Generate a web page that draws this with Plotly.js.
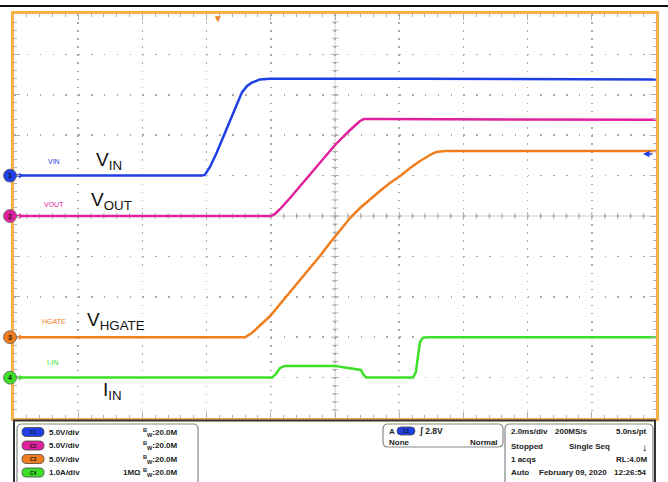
<!DOCTYPE html>
<html><head><meta charset="utf-8">
<script src="https://cdn.plot.ly/plotly-3.0.1.min.js"></script>
<style>html,body{margin:0;padding:0;background:#fff}#chart{width:668px;height:482px}</style>
</head><body><div id="chart"></div>
<script>
// time in ms (2.0 ms/div, 10 div); volts / amps per channel
const vinT  = [0, 5.86, 5.95, 6.11, 6.32, 6.51, 6.73, 6.95, 7.10, 7.26, 7.41, 7.66, 7.98, 12.65, 20];
const vinV  = [0, 0, 0.1, 1.1, 2.9, 4.7, 6.7, 8.8, 10.3, 11.1, 11.5, 11.9, 12.0, 12.0, 11.9];
const voutT = [0, 8.01, 8.13, 8.29, 8.60, 9.13, 9.53, 10.0, 10.47, 10.78, 10.90, 11.25, 20];
const voutV = [0, 0, 0.25, 0.87, 2.23, 4.7, 6.56, 8.79, 10.64, 11.76, 12.0, 12.0, 11.9];
const hgateT = [0, 7.20, 7.41, 7.66, 7.98, 8.29, 8.60, 8.91, 9.22, 9.53, 9.84, 10.16, 10.47, 10.78, 11.09, 11.40, 11.71, 12.03, 12.34, 12.65, 12.96, 13.15, 13.43, 20];
const hgateV = [0, 0, 0.52, 1.39, 2.62, 4.11, 5.59, 7.08, 8.56, 10.05, 11.66, 13.27, 14.75, 15.99, 17.10, 18.09, 19.08, 19.95, 20.94, 21.81, 22.55, 22.92, 23.04, 23.04];
const iinT  = [0, 8.04, 8.16, 8.29, 8.44, 10.0, 10.31, 10.72, 10.81, 10.87, 10.97, 12.43, 12.52, 12.59, 12.65, 12.74, 12.96, 20];
const iinA  = [0, 0, 0.09, 0.24, 0.29, 0.29, 0.25, 0.21, 0.19, 0.09, 0, 0, 0.14, 0.56, 0.88, 0.99, 1.0, 1.0];

const chNames = ['VIN', 'VOUT', 'HGATE', 'I-IN'];
const chColors = ['#1f3fe6', '#e0209c', '#f07d1e', '#3ce028'];
const chScale = ['5.0V/div', '5.0V/div', '5.0V/div', '1.0A/div'];

// pixel -> paper helpers (plot area 14..656 x 14..418)
const X = p => (p - 14) / 642;
const Y = p => (418 - p) / 404;

const traces = [
  {x: vinT, y: vinV, yaxis: 'y', mode: 'lines', line: {color: chColors[0], width: 2.5}, name: 'VIN'},
  {x: voutT, y: voutV, yaxis: 'y2', mode: 'lines', line: {color: chColors[1], width: 2.5}, name: 'VOUT'},
  {x: hgateT, y: hgateV, yaxis: 'y3', mode: 'lines', line: {color: chColors[2], width: 2.5}, name: 'HGATE'},
  {x: iinT, y: iinA, yaxis: 'y4', mode: 'lines', line: {color: chColors[3], width: 2.5}, name: 'I-IN'}
];
// small ground arrows inside the frame
['y','y2','y3','y4'].forEach((ax, i) => {
  traces.push({x: [0.2], y: [0], yaxis: ax, mode: 'markers', cliponaxis: false,
    marker: {symbol: 'triangle-right', size: 5, color: chColors[i]}, hoverinfo: 'skip', showlegend: false});
});

const frame = '#f5b04c';
const tickc = '#b0b0b0';
const hidden = {visible: false, fixedrange: true};
const layout = {
  width: 668, height: 482,
  margin: {l: 14, r: 12, t: 14, b: 64},
  paper_bgcolor: '#fff', plot_bgcolor: '#fff',
  showlegend: false,
  xaxis: {range: [0, 20], dtick: 2, showticklabels: false, zeroline: false,
    showgrid: true, gridcolor: '#a8a8a8', gridwidth: 1.5, griddash: '1.5px,6.58px',
    ticks: 'inside', ticklen: 6, tickcolor: tickc, tickwidth: 1,
    minor: {dtick: 0.4, ticks: 'inside', ticklen: 3, tickcolor: tickc, showgrid: false},
    showline: true, linecolor: frame, linewidth: 3, mirror: 'ticks'},
  yaxis: {range: [-30, 20], dtick: 5, showticklabels: false, zeroline: false,
    showgrid: true, gridcolor: '#a8a8a8', gridwidth: 1.5, griddash: '1.5px,11.34px',
    ticks: 'inside', ticklen: 6, tickcolor: tickc, tickwidth: 1,
    minor: {dtick: 1, ticks: 'inside', ticklen: 3, tickcolor: tickc, showgrid: false},
    showline: true, linecolor: frame, linewidth: 3, mirror: 'ticks'},
  yaxis2: Object.assign({overlaying: 'y', range: [-25, 25]}, hidden),
  yaxis3: Object.assign({overlaying: 'y', range: [-10, 40]}, hidden),
  yaxis4: Object.assign({overlaying: 'y', range: [-1, 9]}, hidden),
  shapes: [], annotations: []
};

// center crosshair with ticks
const S = layout.shapes;
S.push({type: 'line', xref: 'paper', yref: 'paper', x0: X(335), x1: X(335), y0: 0, y1: 1, line: {color: '#d0d0d0', width: 1}, layer: 'below'});
S.push({type: 'line', xref: 'paper', yref: 'paper', x0: 0, x1: 1, y0: Y(216), y1: Y(216), line: {color: '#d0d0d0', width: 1}, layer: 'below'});
for (let k = 1; k < 50; k++) {
  const py = 14 + k * 404 / 50;
  const len = (k % 5 === 0) ? 4 : 3;
  S.push({type: 'line', xref: 'paper', yref: 'paper', x0: X(335 - len), x1: X(335 + len), y0: Y(py), y1: Y(py), line: {color: tickc, width: 1}, layer: 'below'});
}
for (let k = 1; k < 50; k++) {
  const px = 14 + k * 642 / 50;
  const len = (k % 5 === 0) ? 4 : 3;
  S.push({type: 'line', xref: 'paper', yref: 'paper', x0: X(px), x1: X(px), y0: Y(216 - len), y1: Y(216 + len), line: {color: tickc, width: 1}, layer: 'below'});
}
// top black line
S.push({type: 'line', xref: 'paper', yref: 'paper', x0: X(0), x1: X(668), y0: Y(6), y1: Y(6), line: {color: '#111', width: 2}});

// rounded rect helper (pixel coords)
function rrect(x0, y0, x1, y1, r, color, fill, w) {
  const p = `M${X(x0 + r)},${Y(y0)} L${X(x1 - r)},${Y(y0)} Q${X(x1)},${Y(y0)} ${X(x1)},${Y(y0 + r)} L${X(x1)},${Y(y1 - r)} Q${X(x1)},${Y(y1)} ${X(x1 - r)},${Y(y1)} L${X(x0 + r)},${Y(y1)} Q${X(x0)},${Y(y1)} ${X(x0)},${Y(y1 - r)} L${X(x0)},${Y(y0 + r)} Q${X(x0)},${Y(y0)} ${X(x0 + r)},${Y(y0)} Z`;
  return {type: 'path', xref: 'paper', yref: 'paper', path: p, line: {color: color, width: w}, fillcolor: fill || 'rgba(0,0,0,0)'};
}
// bottom status panel
S.push({type: 'rect', xref: 'paper', yref: 'paper', x0: X(14), x1: X(655), y0: Y(420.5), y1: Y(490), line: {color: '#333', width: 2}});
S.push(rrect(17, 424, 198, 495, 5, '#888', null, 1.2));
S.push(rrect(383, 424, 503, 447, 5, '#888', null, 1.2));
S.push(rrect(505, 424, 653, 495, 5, '#888', null, 1.2));

const A = layout.annotations;
function T(x, y, text, o) {
  o = o || {};
  A.push({xref: 'paper', yref: 'paper', x: X(x), y: Y(y), text: text, showarrow: false,
    xanchor: o.xa || 'left', yanchor: 'middle',
    font: {family: o.fam || 'Liberation Sans', size: o.size || 8, color: o.color || '#222', weight: o.weight || 400}});
}
// channel ground markers (circles with numbers) at each channel's zero level
const groundPx = [175.6, 216, 337.2, 377.6];
groundPx.forEach((py, i) => {
  S.push({type: 'circle', xref: 'paper', yref: 'paper', x0: X(3.5), x1: X(16.5), y0: Y(py - 6.5), y1: Y(py + 6.5),
    fillcolor: chColors[i], line: {color: '#666', width: 0.8}});
  T(10, py, String(i + 1), {xa: 'center', size: 7, color: '#1a1a1a', weight: 700});
});

const rowY = [432, 445.5, 459, 472.5];
chNames.forEach((n, i) => {
  S.push(rrect(22, rowY[i] - 4.5, 44, rowY[i] + 4.5, 4.5, '#444', chColors[i], 0.8));
  T(33, rowY[i], 'C' + (i + 1), {xa: 'center', size: 5, color: '#111', weight: 700});
  T(47, rowY[i], chScale[i], {weight: 700});
  T(141, rowY[i], '<sup>B</sup><sub>W</sub>:20.0M', {weight: 700});
});
T(121, rowY[3], '1MΩ', {weight: 700});
// trigger box
T(387, 431, 'A', {weight: 700});
S.push(rrect(397, 427, 415, 435, 4, '#444', chColors[0], 0.8));
T(406, 431, 'C1', {xa: 'center', size: 5, color: '#111', weight: 700});
T(417, 431, 'ʃ 2.8V', {weight: 700, size: 8.5});
T(387, 442, 'None', {weight: 700});
T(500, 442, 'Normal', {weight: 700, xa: 'right'});
// timebase box
T(509, 431, '2.0ms/div', {weight: 700});
T(553, 431, '200MS/s', {weight: 700});
T(649, 431, '5.0ns/pt', {weight: 700, xa: 'right'});
T(509, 446, 'Stopped', {weight: 700});
T(567, 446, 'Single Seq', {weight: 700});
T(645, 447, '↓', {weight: 700, xa: 'center', size: 11, color: '#111'});
T(509, 459.5, '1 acqs', {weight: 700});
T(649, 459.5, 'RL:4.0M', {weight: 700, xa: 'right'});
T(509, 473, 'Auto', {weight: 700});
T(537, 473, 'February 09, 2020', {weight: 700});
T(649, 473, '12:26:54', {weight: 700, xa: 'right'});

// channel small labels
T(46, 161, 'VIN', {size: 7, color: chColors[0]});
T(42, 204, 'VOUT', {size: 7, color: chColors[1]});
T(40, 321, 'HGATE', {size: 7, color: chColors[2]});
T(45, 362, 'I-IN', {size: 7, color: chColors[3]});
// large labels
T(94, 161, 'V<sub>IN</sub>', {size: 19, color: '#111'});
T(89, 201, 'V<sub>OUT</sub>', {size: 19, color: '#111'});
T(85, 321, 'V<sub>HGATE</sub>', {size: 19, color: '#111'});
T(101, 391, 'I<sub>IN</sub>', {size: 19, color: '#111'});

// trigger position marker and trigger level arrow
T(218, 18, '▼', {xa: 'center', size: 10, color: '#f07d1e'});
A.push({xref: 'paper', yref: 'paper', x: X(643), y: Y(154), ax: 11, ay: 0, text: '', showarrow: true,
  arrowhead: 2, arrowsize: 1, arrowwidth: 1.3, arrowcolor: chColors[0]});

Plotly.newPlot('chart', traces, layout, {displayModeBar: false, staticPlot: true});
</script></body></html>
